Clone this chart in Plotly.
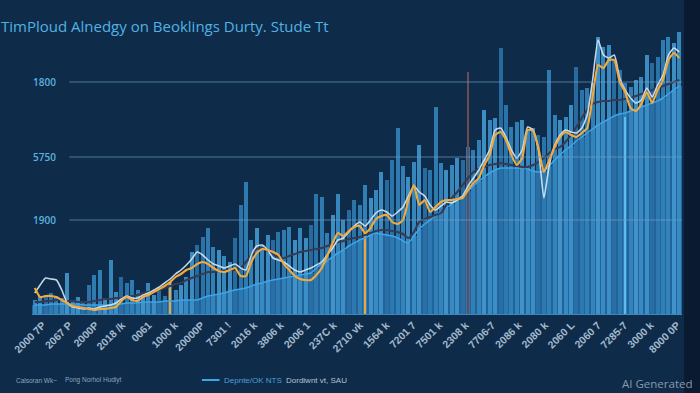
import plotly.graph_objects as go

# ---------------- data ----------------
title_text = "TimPloud Alnedgy on Beoklings Durty. Stude Tt"

y_tick_vals = [940, 1570, 2320]
y_tick_text = ["1900", "5750", "1800"]

x_tick_text = [
    "2000 7P", "2067 P", "2000P", "2018 /k", "0061", "1000 k", "20000P",
    "7301 !", "2016 k", "3806 k", "2006 1", "237C k", "2710 vk", "1564 k",
    "7201 7", "7501 k", "2308 k", "7706-7", "2086 k", "2080 k", "2060 L",
    "2060 7", "7285-7", "3000 k", "8000 0P",
]

bar_values = [
    140, 180, 190, 210, 180, 160, 410, 140, 170, 120,
    290, 390, 440, 160, 540, 220, 370, 310, 340, 240,
    180, 310, 190, 260, 180, 320, 240, 290, 370, 620,
    690, 770, 860, 670, 640, 580, 520, 760, 1090, 1320,
    740, 860, 680, 790, 740, 820, 840, 870, 740, 860,
    760, 890, 1200, 1170, 810, 990, 1200, 940, 1040, 1140,
    1090, 1290, 1160, 1240, 1420, 1340, 1540, 1860, 1480, 1370,
    1520, 1690, 1460, 1440, 2070, 1510, 1440, 1490, 1560, 1540,
    1670, 1640, 1740, 2040, 1940, 1960, 2660, 2090, 1870, 1920,
    1940, 1840, 1860, 1790, 1770, 2440, 1990, 1940, 1970, 2090,
    2470, 2240, 2260, 2310, 2770, 2670, 2690, 2540, 2440, 2310,
    2270, 2340, 2370, 2590, 2510, 2570, 2740, 2770, 2710, 2820,
]

base_values = [
    90, 90, 90, 100, 100, 100, 100, 100, 100, 90,
    90, 90, 90, 90, 90, 100, 100, 110, 110, 110,
    120, 120, 120, 120, 130, 130, 130, 140, 140, 140,
    140, 160, 180, 190, 200, 210, 230, 240, 250, 260,
    280, 300, 310, 330, 340, 350, 360, 370, 380, 390,
    400, 410, 460, 500, 530, 570, 610, 640, 680, 710,
    740, 760, 790, 810, 800, 790, 780, 760, 730, 710,
    780, 850, 900, 940, 980, 1020, 1060, 1100, 1150, 1180,
    1230, 1280, 1330, 1370, 1410, 1440, 1460, 1460, 1460, 1460,
    1460, 1450, 1430, 1420, 1430, 1480, 1540, 1590, 1640, 1680,
    1730, 1770, 1810, 1850, 1890, 1920, 1950, 1980, 2000, 2010,
    2030, 2050, 2070, 2090, 2110, 2130, 2160, 2200, 2240, 2280,
]

orange_values = [
    260, 170, 180, 180, 170, 140, 110, 80, 70, 60,
    50, 40, 50, 50, 60, 70, 130, 170, 140, 130,
    170, 190, 220, 250, 280, 320, 370, 400, 440, 460,
    500, 520, 500, 460, 430, 420, 440, 460, 380, 380,
    520, 610, 650, 640, 620, 590, 500, 440, 380, 350,
    340, 340, 390, 460, 580, 710, 810, 780, 830, 870,
    880, 810, 860, 950, 980, 990, 920, 900, 940, 1140,
    1290, 1090, 1140, 1020, 1070, 1120, 1140, 1140, 1150, 1160,
    1240, 1310, 1360, 1490, 1590, 1790, 1820, 1740, 1590, 1490,
    1560, 1840, 1830, 1660, 1420, 1540, 1670, 1770, 1820, 1790,
    1770, 1810, 1860, 2170, 2490, 2460, 2540, 2540, 2320, 2220,
    2060, 2030, 2100, 2220, 2110, 2240, 2340, 2540, 2610, 2560,
]

white_values = [
    210, 290, 360, 350, 340, 240, 110, 70, 60, 50,
    60, 50, 70, 80, 90, 110, 150, 180, 160, 160,
    190, 210, 240, 270, 310, 350, 400, 440, 490, 550,
    620, 590, 540, 500, 480, 460, 480, 500, 460, 440,
    590, 680, 690, 640, 560, 540, 520, 480, 440, 420,
    440, 460, 490, 520, 590, 660, 740, 760, 820, 880,
    920, 880, 940, 1010, 1040, 1020, 980, 1020, 1070, 1180,
    1280, 1220, 1180, 1090, 1040, 1080, 1120, 1110, 1140, 1180,
    1280, 1360, 1440, 1540, 1640, 1840, 1860, 1770, 1640, 1560,
    1640, 1870, 1840, 1640, 1160, 1490, 1690, 1790, 1840, 1820,
    1810, 1860, 1990, 2340, 2740, 2590, 2560, 2590, 2360, 2240,
    2160, 2110, 2140, 2260, 2170, 2290, 2390, 2590, 2660, 2620,
]

dark_values = [
    120, 120, 130, 130, 140, 140, 130, 130, 120, 120,
    120, 130, 140, 150, 150, 160, 160, 170, 180, 190,
    210, 220, 230, 240, 260, 280, 300, 310, 340, 360,
    380, 400, 420, 420, 430, 430, 440, 440, 460, 520,
    590, 650, 660, 630, 600, 570, 560, 580, 600, 620,
    630, 640, 650, 660, 680, 700, 720, 730, 750, 760,
    770, 790, 810, 830, 840, 840, 830, 820, 800, 760,
    820, 920, 950, 970, 990, 1010, 1090, 1160, 1220, 1290,
    1360, 1420, 1450, 1470, 1490, 1500, 1510, 1500, 1490, 1480,
    1470, 1470, 1490, 1520, 1560, 1610, 1650, 1670, 1720, 1790,
    1870, 1960, 2040, 2100, 2120, 2130, 2130, 2140, 2140, 2150,
    2160, 2180, 2200, 2220, 2240, 2260, 2280, 2300, 2320, 2340,
]

accent_index = [25, 61, 80, 109]
accent_values = [320, 810, 2420, 1970]

legend_left = ["Calsoran Wk~", "Pong Norhol Hudiyt"]
legend_series = "Depnte/OK NTS"
legend_right = "Dordiwnt vt, SAU"
watermark = "AI Generated"

# ---------------- layout helpers ----------------
W, H = 700, 393
PL, PR, PT, PB = 20, 682, 14, 314  # plot box in pixels


def px2x(px):
    return (px - PL) / (PR - PL)


def py2y(py):
    return (PB - py) / (PB - PT)


n = len(bar_values)
x = list(range(n))

palette = ["#3a8ec6", "#2d7bb3", "#4397cd", "#2a71a6", "#3687bf", "#3f93ca", "#3282b9"]
bar_colors = [palette[(i * 5) % len(palette)] for i in range(n)]
accent_colors = ["#f0a535", "#f0a535", "#6b4a52", "#5cbcf2"]

fig = go.Figure()

# body of the bars (under the blue line)
fig.add_trace(go.Bar(x=x, y=base_values, width=1.0, marker=dict(color="#22639a", line=dict(width=0)),
                     hoverinfo="skip", showlegend=False))
# bars
fig.add_trace(go.Bar(x=x, y=bar_values, width=0.74, marker=dict(color=bar_colors, line=dict(width=0)),
                     opacity=0.92, showlegend=False))
# accent spikes
fig.add_trace(go.Bar(x=accent_index, y=accent_values, width=0.35,
                     marker=dict(color=accent_colors, line=dict(width=0)), showlegend=False))

# lines
fig.add_trace(go.Scatter(x=x, y=base_values, mode="lines",
                         line=dict(color="#3ea4e8", width=1.5, shape="spline", smoothing=0.6), showlegend=False))
fig.add_trace(go.Scatter(x=x, y=dark_values, mode="lines",
                         line=dict(color="#363a52", width=2, shape="spline", smoothing=0.8), showlegend=False))
fig.add_trace(go.Scatter(x=x, y=white_values, mode="lines",
                         line=dict(color="#d8e8f4", width=1.6, shape="spline", smoothing=0.5),
                         opacity=0.9, showlegend=False))
fig.add_trace(go.Scatter(x=x, y=orange_values, mode="lines",
                         line=dict(color="#f3aa3c", width=2.1, shape="spline", smoothing=0.5), showlegend=False))

shapes = []
# darker right strip
shapes.append(dict(type="rect", xref="paper", yref="paper", x0=px2x(684), x1=px2x(W + 5), y0=py2y(H + 5), y1=py2y(-5),
                   fillcolor="#0a1a30", line=dict(width=0), layer="below"))
# gridlines
for v in y_tick_vals:
    shapes.append(dict(type="line", xref="paper", yref="y", x0=px2x(58), x1=1, y0=v, y1=v,
                       line=dict(color="rgba(110,160,200,0.45)", width=1.5), layer="above"))
# legend line sample
shapes.append(dict(type="line", xref="paper", yref="paper", x0=px2x(193), x1=px2x(211), y0=py2y(380), y1=py2y(380),
                   line=dict(color="#3ea4e8", width=2)))

annotations = []
for v, t in zip(y_tick_vals, y_tick_text):
    annotations.append(dict(x=px2x(19), y=v, xref="paper", yref="y", text=t, showarrow=False, xanchor="left",
                            yanchor="middle", font=dict(family="Open Sans", size=10, color="#5cb2de", weight=600)))
small_font = dict(family="Liberation Sans", size=6.5, color="#8ea4bb")
leg_font = dict(family="Liberation Sans", size=8)
annotations.append(dict(x=px2x(2), y=py2y(380), xref="paper", yref="paper", text=legend_left[0], showarrow=False,
                        xanchor="left", yanchor="middle", font=small_font))
annotations.append(dict(x=px2x(52), y=py2y(380), xref="paper", yref="paper", text=legend_left[1], showarrow=False,
                        xanchor="left", yanchor="middle", font=small_font))
annotations.append(dict(x=px2x(213), y=py2y(380), xref="paper", yref="paper", text=legend_series, showarrow=False,
                        xanchor="left", yanchor="middle", font=dict(**leg_font, color="#4f9fd6")))
annotations.append(dict(x=px2x(277), y=py2y(380), xref="paper", yref="paper", text=legend_right, showarrow=False,
                        xanchor="left", yanchor="middle", font=dict(**leg_font, color="#b4c2d0")))
annotations.append(dict(x=px2x(694), y=py2y(383), xref="paper", yref="paper", text=watermark, showarrow=False,
                        xanchor="right", yanchor="middle", font=dict(family="Open Sans", size=11.5, color="#8899ab")))

tick_positions = [1.5 + 4.88 * k for k in range(len(x_tick_text))]

fig.update_layout(
    width=W, height=H,
    margin=dict(l=PL, r=W - PR, t=PT, b=H - PB, pad=0),
    paper_bgcolor="#0e2b4a",
    plot_bgcolor="rgba(0,0,0,0)",
    barmode="overlay",
    bargap=0,
    title=dict(text=title_text, x=1 / W, xanchor="left", y=1 - 27 / H, yanchor="middle", xref="container",
               yref="container", font=dict(family="Open Sans", size=15, color="#52b2e2")),
    xaxis=dict(range=[-0.5, n - 0.5], tickmode="array", tickvals=tick_positions, ticktext=x_tick_text,
               tickangle=-45, tickfont=dict(family="Liberation Sans", size=10.5, color="#a3b9cd", weight=700),
               ticklabeloverflow="allow",
               showgrid=False, zeroline=False, showline=True, linecolor="#3a88c0", linewidth=1, ticks=""),
    yaxis=dict(range=[0, 3000], showgrid=False, zeroline=False, showticklabels=False, showline=False),
    shapes=shapes,
    annotations=annotations,
    showlegend=False,
)

fig.write_html("out.html", config={"displayModeBar": False},
               post_script="document.body.style.margin='0';document.body.style.overflow='hidden';")
